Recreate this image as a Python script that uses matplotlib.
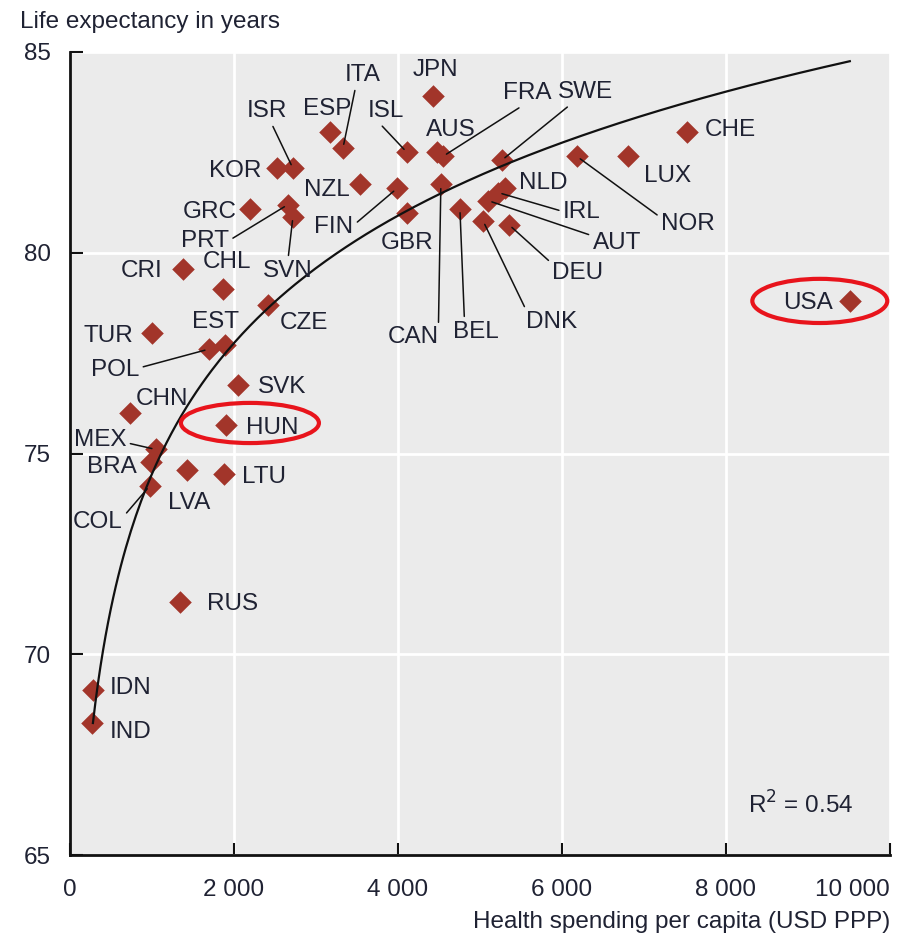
import numpy as np
import matplotlib
matplotlib.use("Agg")
import matplotlib.pyplot as plt
from matplotlib.patches import Ellipse
from matplotlib.ticker import FuncFormatter

plt.rcParams["font.family"] = ["Liberation Sans", "DejaVu Sans"]

# Data
countries = ["JPN", "ITA", "ESP", "ISL", "AUS", "FRA", "SWE", "ISR", "KOR", "NZL",
             "GRC", "PRT", "SVN", "FIN", "GBR", "CAN", "BEL", "DNK", "DEU", "AUT",
             "IRL", "NLD", "NOR", "LUX", "CHE", "USA", "CRI", "CHL", "CZE", "TUR",
             "EST", "POL", "SVK", "CHN", "HUN", "MEX", "BRA", "COL", "LVA", "LTU",
             "RUS", "IDN", "IND"]
spending = [4427, 3329, 3171, 4110, 4476, 4549, 5265, 2720, 2524, 3537,
            2195, 2659, 2720, 3988, 4110, 4524, 4756, 5037, 5353, 5098,
            5220, 5305, 6183, 6805, 7524, 9512, 1378, 1866, 2415, 1000,
            1890, 1695, 2049, 732, 1902, 1049, 988, 976, 1427, 1878,
            1341, 280, 268]
life_exp = [83.9, 82.6, 83.0, 82.5, 82.5, 82.4, 82.3, 82.1, 82.1, 81.7,
            81.1, 81.2, 80.9, 81.6, 81.0, 81.7, 81.1, 80.8, 80.7, 81.3,
            81.5, 81.6, 82.4, 82.4, 83.0, 78.8, 79.6, 79.1, 78.7, 78.0,
            77.7, 77.6, 76.7, 76.0, 75.7, 75.1, 74.8, 74.2, 74.6, 74.5,
            71.3, 69.1, 68.3]

# points
trend_x = [280, 524, 1915, 4024, 5244, 6866, 9512]
trend_y = [68.3, 71.35, 77.57, 80.99, 82.14, 83.23, 84.83]
r2_text = "R$^2$ = 0.54"

# label offsets in pixels (dx, dy) and leader line start (relpos) if any
label_layout = {
    "JPN": (3, 29, None), "ITA": (20, 76, (0.3, 0)), "ESP": (-3, 26, None),
    "ISL": (-21, 44, (0.3, 0)), "AUS": (14, 25, None), "FRA": (84, 66, (0.45, 0)),
    "SWE": (84, 71, (0.25, 0)), "ISR": (-26, 60, (0.6, 0)), "KOR": (-42, 0, None),
    "NZL": (-33, -3, None), "GRC": (-40, 0, None), "PRT": (-83, -33, (1, 0.5)),
    "SVN": (-5, -51, (0.5, 1)), "FIN": (-63, -36, (1, 0.6)), "GBR": (0, -27, None),
    "CAN": (-28, -150, (1, 1)), "BEL": (16, -120, (0.25, 1)), "DNK": (69, -98, (0, 1)),
    "DEU": (69, -45, (0, 0.9)), "AUT": (129, -39, (0, 0.8)), "IRL": (84, -16, (0, 0.5)),
    "NLD": (38, 8, None), "NOR": (111, -65, (0, 0.8)), "LUX": (40, -17, None),
    "CHE": (43, 5, None), "USA": (-42, 1, None), "CRI": (-41, 1, None),
    "CHL": (4, 30, None), "CZE": (36, -15, None), "TUR": (-44, 0, None),
    "EST": (-9, 26, None), "POL": (-94, -18, (1, 0.6)), "SVK": (44, 1, None),
    "CHN": (32, 17, None), "HUN": (46, 0, None), "MEX": (-56, 12, (1, 0.4)),
    "BRA": (-39, -2, None), "COL": (-52, -33, (1, 0.7)), "LVA": (2, -30, None),
    "LTU": (40, 0, None), "RUS": (53, 1, None), "IDN": (38, 5, None),
    "IND": (39, -6, None),
}

text_color = "#1f2233"
marker_color = "#a2352a"
fs = 17.5

x = np.array(spending, dtype=float)
y = np.array(life_exp, dtype=float)

fig = plt.figure(figsize=(8.97, 9.40), dpi=100)
ax = fig.add_axes([0.078, 0.0904, 0.914, 0.8543])
ax.set_facecolor("#ebebeb")

ax.set_xlim(0, 10000)
ax.set_ylim(65, 85)
ax.set_xticks([0, 2000, 4000, 6000, 8000, 10000])
ax.set_yticks([65, 70, 75, 80, 85])
ax.xaxis.set_major_formatter(FuncFormatter(lambda v, p: f"{int(v):,}".replace(",", " ")))
ax.grid(True, color="white", lw=2)
ax.set_axisbelow(True)

for s in ["top", "right"]:
    ax.spines[s].set_visible(False)
for s in ["left", "bottom"]:
    ax.spines[s].set_linewidth(2)
    ax.spines[s].set_color("#111111")
ax.tick_params(direction="in", length=9, width=1.5, labelsize=fs, colors="#111111",
               labelcolor=text_color)
ax.tick_params(axis="y", pad=14)
ax.tick_params(axis="x", pad=17)
ax.get_xticklabels()[-1].set_ha("right")

ax.scatter(x, y, marker="D", s=11.5 ** 2, color=marker_color, zorder=3, linewidths=0)

# trend curve: quadratic in log(x) through the read curve points
coef = np.polyfit(np.log(trend_x), trend_y, 2)
xs = np.linspace(min(trend_x), max(trend_x), 300)
ax.plot(xs, np.polyval(coef, np.log(xs)), color="#111111", lw=1.6, zorder=4)

for c, xv, yv in zip(countries, x, y):
    dx, dy, rel = label_layout[c]
    kw = {}
    if rel is not None:
        kw["arrowprops"] = dict(arrowstyle="-", color="#111111", lw=1.1,
                                relpos=rel, shrinkA=1, shrinkB=3)
    ax.annotate(c, (xv, yv), xytext=(dx, dy - 3), textcoords="offset pixels",
                ha="center", va="center", fontsize=fs, color=text_color,
                zorder=5, **kw)

# red ellipses around highlighted countries
ax.add_patch(Ellipse((2195, 75.76), 1683, 1.0, fill=False, ec="#e8141c", lw=3, zorder=6))
ax.add_patch(Ellipse((9146, 78.8), 1646, 1.1, fill=False, ec="#e8141c", lw=3, zorder=6))

ax.text(0.955, 0.045, r2_text, transform=ax.transAxes, ha="right", va="bottom",
        fontsize=fs, color=text_color)

fig.text(20 / 897, 1 - 22 / 940, "Life expectancy in years", ha="left", va="center",
         fontsize=fs, color=text_color)
fig.text(890 / 897, 1 - 922 / 940, "Health spending per capita (USD PPP)", ha="right",
         va="center", fontsize=fs, color=text_color)

fig.savefig("out.png", dpi=100)
